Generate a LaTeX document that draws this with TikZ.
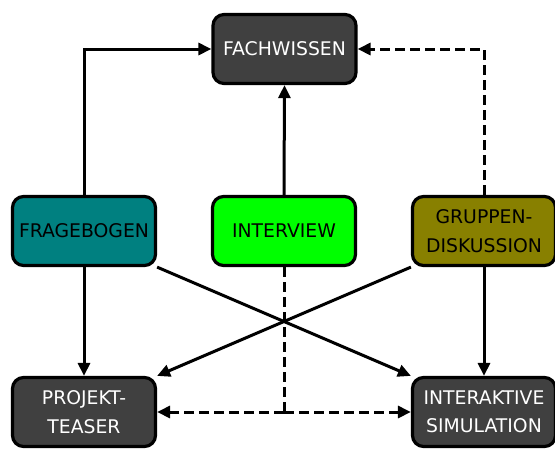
\documentclass[tikz,border=0pt]{standalone}
\usepackage{fontspec}
\setmainfont{DejaVu Sans}
\usetikzlibrary{arrows.meta,positioning}
\definecolor{darkbox}{RGB}{64,64,64}
\definecolor{tealbox}{RGB}{0,128,128}
\definecolor{limebox}{RGB}{0,255,0}
\definecolor{olivebox}{RGB}{136,128,0}
\tikzset{
  boxbase/.style={draw=black, line width=3.2pt, rounded corners=11pt,
    minimum width=143pt, minimum height=69pt, align=center, inner sep=2pt,
    font=\fontsize{18.8}{28.5}\selectfont},
  darknode/.style={boxbase, fill=darkbox, text=white},
  tealnode/.style={boxbase, fill=tealbox, text=black},
  limenode/.style={boxbase, fill=limebox, text=black},
  olivenode/.style={boxbase, fill=olivebox, text=black},
  conn/.style={line width=3pt, -{Triangle[length=13pt,width=12pt]}},
  dconn/.style={conn, dash pattern=on 10pt off 5pt},
  dline/.style={line width=3pt, dash pattern=on 10pt off 5pt},
}
\begin{document}
\begin{tikzpicture}[x=1pt,y=-1pt]
\useasboundingbox (0,0) rectangle (555,448);
\node[darknode] (fach) at (284.5,49) {FACHWISSEN};
\node[tealnode] (frag) at (84,231) {FRAGEBOGEN};
\node[limenode] (inter) at (284,231) {INTERVIEW};
\node[olivenode] (grup) at (484,231) {GRUPPEN-\\DISKUSSION};
\node[darknode] (proj) at (84,412) {PROJEKT-\\TEASER};
\node[darknode] (sim) at (484,412) {INTERAKTIVE\\SIMULATION};
\coordinate (junc) at (inter.center |- proj.center);
\draw[conn] (frag.north) |- (fach.west);
\draw[conn] (inter.north) -- (fach.south);
\draw[dconn] (grup.north) |- (fach.east);
\draw[conn] (frag.south) -- (proj.north);
\draw[conn] (grup.south) -- (sim.north);
\draw[conn] (frag.south east) -- (sim.north west);
\draw[conn] (grup.south west) -- (proj.north east);
\draw[dline] (inter.south) -- (junc);
\draw[dconn] (junc) -- (proj.east);
\draw[dconn] (junc) -- (sim.west);
\end{tikzpicture}
\end{document}
